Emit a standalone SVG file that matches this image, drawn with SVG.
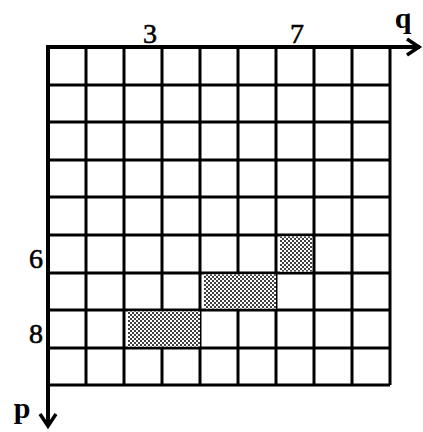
<svg xmlns="http://www.w3.org/2000/svg" width="423" height="432" viewBox="0 0 423 432">
<style>
.g{stroke:#000;stroke-width:3;fill:none}
.ax{stroke:#000;stroke-width:4;fill:none;stroke-linecap:square}
.ah{stroke:#000;stroke-width:3.5;fill:none;stroke-linejoin:miter}
.t{font-family:"Liberation Serif",serif;font-size:28px;fill:#000;text-anchor:middle;stroke:#000;stroke-width:0.6}
.b{font-weight:bold;font-size:30px;stroke-width:0}
.s{fill:url(#dots);opacity:0.75}
</style>
<defs>
<pattern id="dots" width="4" height="4" patternUnits="userSpaceOnUse">
<rect width="4" height="4" fill="#fff"/>
<rect x="0" y="0" width="2" height="2" fill="#000"/>
<rect x="2" y="2" width="2" height="2" fill="#000"/>
</pattern>
</defs>
<rect width="423" height="432" fill="#fff"/>
<g id="grid" class="g">
<path d="M86 47V385M124 47V385M162 47V385M200 47V385M238 47V385M276 47V385M314 47V385M352 47V385M390 47V385"/>
<path d="M48 85H390M48 122H390M48 160H390M48 197H390M48 235H390M48 273H390M48 310H390M48 348H390M48 385H390"/>
</g>
<g id="shaded">
<rect x="280" y="236.5" width="32" height="35" fill="#fff"/>
<rect x="280" y="236.5" width="32" height="35" class="s"/>
<rect x="204" y="274.5" width="72" height="34" fill="#fff"/>
<rect x="204" y="274.5" width="72" height="34" class="s"/>
<rect x="128" y="311.5" width="72" height="35" fill="#fff"/>
<rect x="128" y="311.5" width="72" height="35" class="s"/>
</g>
<g id="connectors">
<path class="ax" d="M48 47H418"/>
<path class="ah" d="M407 39L419 47L407 55"/>
<path class="ax" d="M48 47V424"/>
<path class="ah" d="M40 414L48 426L56 414"/>
</g>
<g id="labels">
<text class="t" x="150" y="43">3</text>
<text class="t" x="297" y="43">7</text>
<text class="t b" x="403" y="28">q</text>
<text class="t" x="36" y="268">6</text>
<text class="t" x="36" y="343">8</text>
<text class="t b" x="22" y="418">p</text>
</g>
</svg>
